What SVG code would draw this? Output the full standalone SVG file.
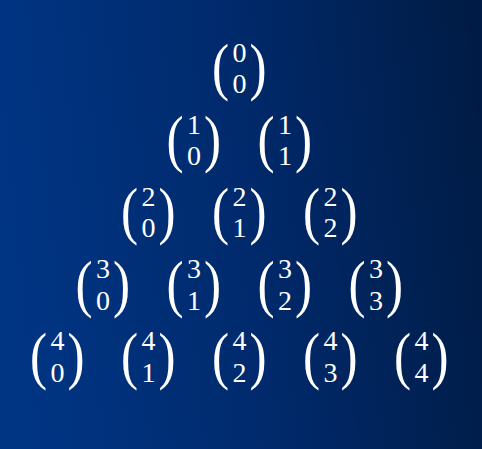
<svg xmlns="http://www.w3.org/2000/svg" width="482" height="449" viewBox="0 0 482 449">
<defs>
<linearGradient id="bg" x1="0" y1="0.4" x2="1" y2="0.3">
<stop offset="0" stop-color="#003584"/>
<stop offset="0.5" stop-color="#002a6c"/>
<stop offset="1" stop-color="#001c46"/>
</linearGradient>
<style>
.d{font-family:"Liberation Serif","Times New Roman",serif;font-size:28px;fill:#ffffff;text-anchor:middle}
.p{font-family:"Liberation Serif","Times New Roman",serif;font-size:64px;fill:#ffffff;text-anchor:middle}
</style>
</defs>
<rect width="482" height="449" fill="url(#bg)"/>
<g id="n0-0"><text class="p" transform="translate(220.5,88) scale(0.8,1)">(</text><text class="p" transform="translate(258,88) scale(0.8,1)">)</text><text class="d" x="239.5" y="61.5">0</text><text class="d" x="239.5" y="93">0</text></g>
<g id="n1-0"><text class="p" transform="translate(175,160.2) scale(0.8,1)">(</text><text class="p" transform="translate(212.5,160.2) scale(0.8,1)">)</text><text class="d" x="194" y="133.7">1</text><text class="d" x="194" y="165.2">0</text></g>
<g id="n1-1"><text class="p" transform="translate(266,160.2) scale(0.8,1)">(</text><text class="p" transform="translate(303.5,160.2) scale(0.8,1)">)</text><text class="d" x="285" y="133.7">1</text><text class="d" x="285" y="165.2">1</text></g>
<g id="n2-0"><text class="p" transform="translate(129.5,232.4) scale(0.8,1)">(</text><text class="p" transform="translate(167,232.4) scale(0.8,1)">)</text><text class="d" x="148.5" y="205.9">2</text><text class="d" x="148.5" y="237.4">0</text></g>
<g id="n2-1"><text class="p" transform="translate(220.5,232.4) scale(0.8,1)">(</text><text class="p" transform="translate(258,232.4) scale(0.8,1)">)</text><text class="d" x="239.5" y="205.9">2</text><text class="d" x="239.5" y="237.4">1</text></g>
<g id="n2-2"><text class="p" transform="translate(311.5,232.4) scale(0.8,1)">(</text><text class="p" transform="translate(349,232.4) scale(0.8,1)">)</text><text class="d" x="330.5" y="205.9">2</text><text class="d" x="330.5" y="237.4">2</text></g>
<g id="n3-0"><text class="p" transform="translate(84,304.6) scale(0.8,1)">(</text><text class="p" transform="translate(121.5,304.6) scale(0.8,1)">)</text><text class="d" x="103" y="278.1">3</text><text class="d" x="103" y="309.6">0</text></g>
<g id="n3-1"><text class="p" transform="translate(175,304.6) scale(0.8,1)">(</text><text class="p" transform="translate(212.5,304.6) scale(0.8,1)">)</text><text class="d" x="194" y="278.1">3</text><text class="d" x="194" y="309.6">1</text></g>
<g id="n3-2"><text class="p" transform="translate(266,304.6) scale(0.8,1)">(</text><text class="p" transform="translate(303.5,304.6) scale(0.8,1)">)</text><text class="d" x="285" y="278.1">3</text><text class="d" x="285" y="309.6">2</text></g>
<g id="n3-3"><text class="p" transform="translate(357,304.6) scale(0.8,1)">(</text><text class="p" transform="translate(394.5,304.6) scale(0.8,1)">)</text><text class="d" x="376" y="278.1">3</text><text class="d" x="376" y="309.6">3</text></g>
<g id="n4-0"><text class="p" transform="translate(38.5,376.8) scale(0.8,1)">(</text><text class="p" transform="translate(76,376.8) scale(0.8,1)">)</text><text class="d" x="57.5" y="350.3">4</text><text class="d" x="57.5" y="381.8">0</text></g>
<g id="n4-1"><text class="p" transform="translate(129.5,376.8) scale(0.8,1)">(</text><text class="p" transform="translate(167,376.8) scale(0.8,1)">)</text><text class="d" x="148.5" y="350.3">4</text><text class="d" x="148.5" y="381.8">1</text></g>
<g id="n4-2"><text class="p" transform="translate(220.5,376.8) scale(0.8,1)">(</text><text class="p" transform="translate(258,376.8) scale(0.8,1)">)</text><text class="d" x="239.5" y="350.3">4</text><text class="d" x="239.5" y="381.8">2</text></g>
<g id="n4-3"><text class="p" transform="translate(311.5,376.8) scale(0.8,1)">(</text><text class="p" transform="translate(349,376.8) scale(0.8,1)">)</text><text class="d" x="330.5" y="350.3">4</text><text class="d" x="330.5" y="381.8">3</text></g>
<g id="n4-4"><text class="p" transform="translate(402.5,376.8) scale(0.8,1)">(</text><text class="p" transform="translate(440,376.8) scale(0.8,1)">)</text><text class="d" x="421.5" y="350.3">4</text><text class="d" x="421.5" y="381.8">4</text></g>
</svg>
